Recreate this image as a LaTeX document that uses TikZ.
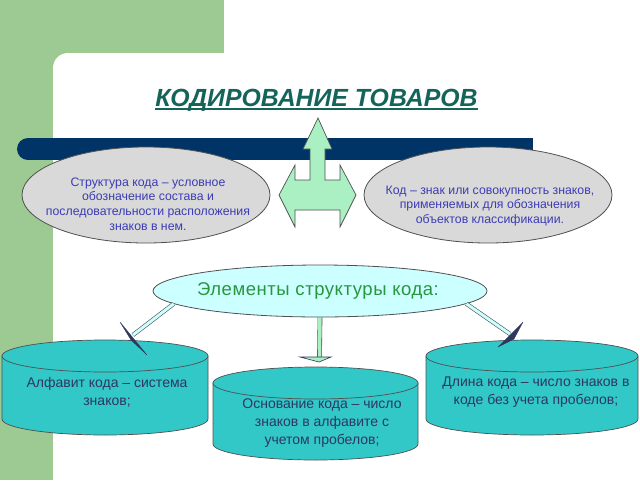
\documentclass[tikz,border=0pt]{standalone}
\usepackage{fontspec}
\setmainfont{Liberation Sans}
\usetikzlibrary{shapes.geometric,calc}
\definecolor{bggreen}{RGB}{157,201,147}
\definecolor{navybar}{RGB}{0,51,102}
\definecolor{titlecol}{RGB}{20,100,90}
\definecolor{ellgrey}{RGB}{217,217,217}
\definecolor{edgegrey}{RGB}{80,80,80}
\definecolor{bluetext}{RGB}{60,60,180}
\definecolor{lightcyan}{RGB}{204,255,255}
\definecolor{greentext}{RGB}{40,150,60}
\definecolor{cylfill}{RGB}{50,200,200}
\definecolor{cyltext}{RGB}{45,55,95}
\definecolor{arrowgreen}{RGB}{170,240,195}
\begin{document}
\begin{tikzpicture}[x=1pt,y=-1pt,
  greyell/.style={ellipse, draw=edgegrey, fill=ellgrey, line width=0.8pt, minimum width=248pt, minimum height=96pt},
  smalltext/.style={text=bluetext, font=\fontsize{12.3}{14.6}\selectfont, align=center, inner sep=0pt},
  cyltxt/.style={text=cyltext, font=\fontsize{14}{17.8}\selectfont, align=center, inner sep=0pt},
  cyl/.style={fill=cylfill, draw=edgegrey, line width=0.7pt},
  hollow/.style={draw=edgegrey, double=lightcyan, double distance=3pt, line width=0.6pt},
  hollowgreen/.style={draw=edgegrey, double=arrowgreen, double distance=3.5pt, line width=0.6pt},
  thinhead/.style={fill=cyltext, draw=cyltext, line width=0.3pt, line join=round}
]
\useasboundingbox (0,0) rectangle (640,480);
\clip (0,0) rectangle (640,480);
% background
\fill[white] (0,0) rectangle (640,480);
\fill[bggreen] (0,0) rectangle (224,480);
\fill[white, rounded corners=15pt] (53,540) -- (53,53) -- (700,53) -- (700,540) -- cycle;
% title
\node[font=\fontsize{24.8}{28}\selectfont\bfseries\itshape, text=titlecol, inner sep=0pt, anchor=base] (title) at (316.5,106) {КОДИРОВАНИЕ ТОВАРОВ};
\draw[titlecol, line width=1.6pt] ($(title.base west)+(0,3)$) -- ($(title.base east)+(0,3)$);
% navy bar
\fill[navybar] (28,138) rectangle (533,160);
\fill[navybar] (28,149) circle[radius=11];
% top ellipses
\node[greyell] (struktE) at (146,195) {};
\node[smalltext] (struktT) at (148,204) {Структура кода – условное\\обозначение состава и\\последовательности расположения\\знаков в нем.};
\node[greyell] (kodE) at (488,195) {};
\node[smalltext] (kodT) at (490,206) {Код – знак или совокупность знаков,\\применяемых для обозначения\\объектов классификации.};
% central arrow
\filldraw[fill=arrowgreen, draw=edgegrey, line width=0.7pt, line join=miter]
  (318,118) -- (332,149) -- (325,149) -- (325,180) -- (340,180) -- (340,165) -- (356,195)
  -- (340,227) -- (340,210) -- (295,210) -- (295,227) -- (279,195) -- (295,165)
  -- (295,180) -- (310,180) -- (310,149) -- (303,149) -- cycle;
% middle ellipse
\node[ellipse, draw=edgegrey, fill=lightcyan, line width=0.8pt, minimum width=334pt, minimum height=52pt] (elem) at (320,291) {};
\node[text=greentext, font=\fontsize{18.5}{20}\selectfont\addfontfeature{LetterSpace=3}, inner sep=0pt] (elemT) at (318,291) {Элементы структуры кода:};
% cylinders
\path[cyl] (2,356) -- (2,419) arc[start angle=180, end angle=0, x radius=103, y radius=16] -- (208,356) -- cycle;
\path[cyl] (105,356) ellipse[x radius=103, y radius=16];
\node[cyltxt] (cylA) at (107,392) {Алфавит кода – система\\знаков;};
\path[cyl] (213,383) -- (213,444) arc[start angle=180, end angle=0, x radius=102.5, y radius=16] -- (418,383) -- cycle;
\path[cyl] (315.5,383) ellipse[x radius=102.5, y radius=16];
\node[cyltxt] (cylB) at (322,423) {Основание кода – число\\знаков в алфавите с\\учетом пробелов;};
\path[cyl] (426,356) -- (426,419) arc[start angle=180, end angle=0, x radius=106, y radius=16] -- (638,356) -- cycle;
\path[cyl] (532,356) ellipse[x radius=106, y radius=16];
\node[cyltxt] (cylC) at (536,392) {Длина кода – число знаков в\\коде без учета пробелов;};
% connectors
\coordinate (la) at (133,335);
\coordinate (ma) at (319.5,357);
\coordinate (ra) at (510,334);
\draw[hollow] (elem.185) -- (la);
\draw[hollow] (elem.355) -- (ra);
\draw[hollowgreen] (elem.south) -- (ma);
\filldraw[thinhead] ($(la)+(-13,-13)$) -- ($(la)+(14,20)$) -- ($(la)+(-2,5)$) -- cycle;
\filldraw[thinhead] ($(ra)+(13,-12)$) -- ($(ra)+(-12,13)$) -- ($(ra)+(4,5)$) -- cycle;
\filldraw[fill=arrowgreen, draw=cyltext, line width=0.6pt] ($(ma)+(-19.5,0)$) -- ($(ma)+(11.5,0)$) -- ($(ma)+(-0.5,5)$) -- cycle;
\end{tikzpicture}
\end{document}
